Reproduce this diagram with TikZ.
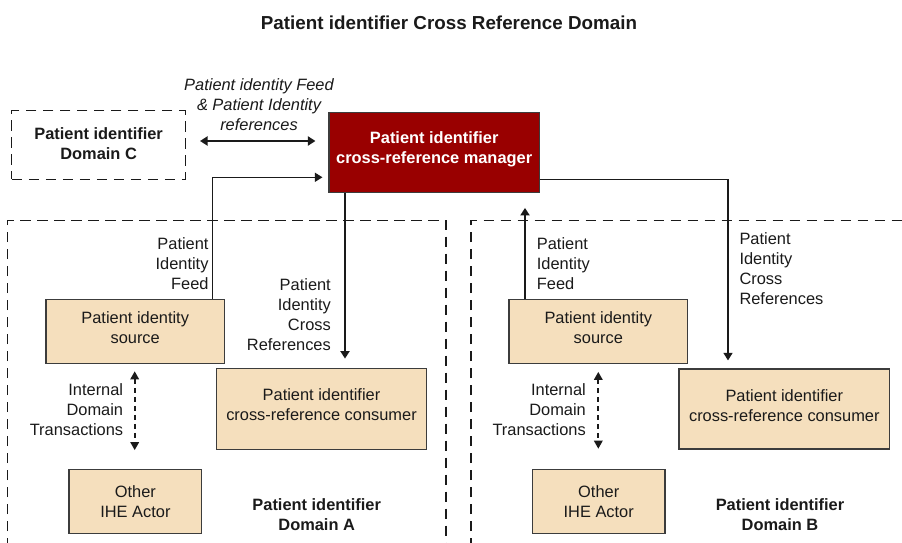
\documentclass[tikz,border=0pt]{standalone}
\usepackage{fontspec}
\setmainfont{Liberation Sans}
\usetikzlibrary{arrows.meta}

\definecolor{boxfill}{HTML}{F5DFBD}
\definecolor{boxline}{HTML}{3C3C3C}
\definecolor{mgrfill}{HTML}{990000}
\definecolor{ink}{HTML}{1A1A1A}

\tikzset{
  txt/.style={font=\fontsize{16.4}{20}\selectfont, text=ink, inner sep=0pt},
  actor/.style={draw=boxline, line width=1.2pt, fill=boxfill, inner sep=0pt},
  actortext/.style={txt, align=center},
  manager/.style={draw=boxline, line width=1.2pt, fill=mgrfill, inner sep=0pt},
  managertext/.style={text=white, font=\fontsize{16.4}{20}\selectfont\bfseries,
    align=center, inner sep=0pt},
  domainbox/.style={draw=ink, line width=1.2pt, dash pattern=on 10.5pt off 6.5pt},
  flow/.style={draw=ink, line width=1.8pt, -{Triangle[width=9pt,length=7.5pt]}},
  thinflow/.style={draw=ink, line width=1.1pt, -{Triangle[width=9pt,length=7.5pt]}},
  internal/.style={draw=ink, line width=1.7pt, dash pattern=on 5pt off 4pt,
    {Triangle[width=8.5pt,length=8pt]}-{Triangle[width=8.5pt,length=8pt]}},
  lbl/.style={txt},
  domlbl/.style={txt, font=\fontsize{16.4}{20}\selectfont\bfseries, align=center},
}

\begin{document}
\begin{tikzpicture}[x=1pt, y=-1pt]
\useasboundingbox[fill=white] (0,0) rectangle (902,543);

% title
\node[txt, font=\fontsize{18.8}{22}\selectfont\bfseries] (title) at (449,22.5)
  {Patient identifier Cross Reference Domain};

% domain outlines (open at the page edge)
\draw[domainbox] (7.3,548) -- (7.3,220.7) -- (446,220.7) -- (446,548);
\draw[domainbox] (471,548) -- (471,220.7) -- (910,220.7);

% Domain C
\node[domainbox, minimum width=173.6pt, minimum height=68.3pt] (domC) at (98.6,145) {};
\node[domlbl] (domCt) at ([yshift=1.7pt]domC.center) {Patient identifier\\Domain C};

% cross-reference manager
\node[manager, minimum width=210.3pt, minimum height=79.6pt] (mgr) at (434.2,152.5) {};
\node[managertext] (mgrt) at ([yshift=3.2pt]mgr.center)
  {Patient identifier\\cross-reference manager};

% Domain A actors
\node[actor, minimum width=178.3pt, minimum height=64.4pt] (srcA) at (135.2,331.5) {};
\node[actortext] (srcAt) at ([yshift=3.8pt]srcA.center) {Patient identity\\source};
\node[actor, minimum width=210.4pt, minimum height=80.6pt] (conA) at (321.5,409) {};
\node[actortext] (conAt) at ([yshift=4pt]conA.center)
  {Patient identifier\\cross-reference consumer};
\node[actor, minimum width=132.7pt, minimum height=63.6pt] (othA) at (135.4,501.5) {};
\node[actortext] (othAt) at (othA.center) {Other\\IHE Actor};

% Domain B actors
\node[actor, minimum width=178.7pt, minimum height=63.6pt] (srcB) at (598.3,331.5) {};
\node[actortext] (srcBt) at ([yshift=3.8pt]srcB.center) {Patient identity\\source};
\node[actor, minimum width=210.7pt, minimum height=80pt] (conB) at (784.3,409) {};
\node[actortext] (conBt) at ([yshift=3.7pt]conB.center)
  {Patient identifier\\cross-reference consumer};
\node[actor, minimum width=132.7pt, minimum height=64pt] (othB) at (598.7,501.3) {};
\node[actortext] (othBt) at (othB.center) {Other\\IHE Actor};

% routing helpers
\coordinate (cRow) at (0,141);
\coordinate (feedA) at (212.5,177.3);
\coordinate (xrefA) at (345,0);
\coordinate (feedB) at (525,0);
\coordinate (xrefB) at (728,179.3);
\coordinate (intA) at (134.7,0);
\coordinate (intB) at (598.3,0);

% Domain C <-> manager
\draw[flow, {Triangle[width=9pt,length=7.5pt]}-{Triangle[width=9pt,length=7.5pt]},
  shorten <=14pt, shorten >=13pt] (domC.east |- cRow) -- (mgr.west |- cRow);
\node[txt, font=\fontsize{16.4}{20}\selectfont\itshape, align=center] (cLbl) at (259,105)
  {Patient identity Feed\\\& Patient Identity\\references};

% Domain A transactions
\draw[thinflow, shorten >=6pt] (srcA.north -| feedA) |- (mgr.west |- feedA);
\node[lbl, align=right, anchor=east] (feedAL) at (208.7,263.3)
  {Patient\\Identity\\Feed};
\draw[flow, shorten >=9.5pt] (mgr.south -| xrefA) -- (conA.north -| xrefA);
\node[lbl, align=right, anchor=east] (xrefAL) at (331,314.7)
  {Patient\\Identity\\Cross\\References};
\draw[internal, shorten <=7pt, shorten >=19pt] (srcA.south -| intA) -- (othA.north -| intA);
\node[lbl, align=right, anchor=east] (intAL) at (123.3,409.3)
  {Internal\\Domain\\Transactions};
\node[domlbl] (domA) at (316.7,514.3) {Patient identifier\\Domain A};

% Domain B transactions
\draw[flow, shorten >=15pt] (srcB.north -| feedB) -- (mgr.south -| feedB);
\node[lbl, align=left, anchor=west] (feedBL) at (536.7,263.3)
  {Patient\\Identity\\Feed};
\draw[thinflow, shorten >=8pt] (mgr.east |- xrefB) -| (conB.north -| xrefB);
\node[lbl, align=left, anchor=west] (xrefBL) at (739.3,269)
  {Patient\\Identity\\Cross\\References};
\draw[internal, shorten <=8pt, shorten >=20pt] (srcB.south -| intB) -- (othB.north -| intB);
\node[lbl, align=right, anchor=east] (intBL) at (586,409.3)
  {Internal\\Domain\\Transactions};
\node[domlbl] (domB) at (780,514.3) {Patient identifier\\Domain B};
\end{tikzpicture}
\end{document}
